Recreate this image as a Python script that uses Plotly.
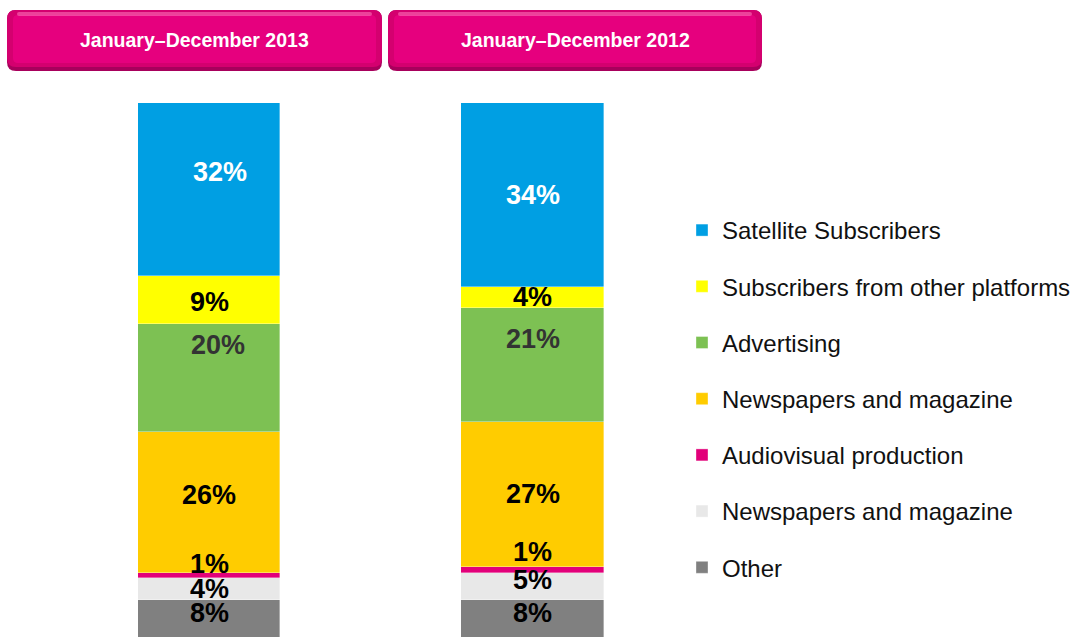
import plotly.graph_objects as go

# ---- data ----
periods = ["January–December 2013", "January–December 2012"]
series_names = ["Other", "Newspapers and magazine", "Audiovisual production",
                "Newspapers and magazine", "Advertising",
                "Subscribers from other platforms", "Satellite Subscribers"]
values_2013 = [8, 4, 1, 26, 20, 9, 32]
values_2012 = [8, 5, 1, 27, 21, 4, 34]

# ---- style ----
colors = ["#808080", "#E8E8E8", "#E2007A", "#FFCC00", "#7DC153", "#FFFF00", "#009FE3"]
label_colors = ["#000000", "#000000", "#000000", "#000000", "#333333", "#000000", "#FFFFFF"]
label_yshift = [[8, 8], [0, 6], [12, 18], [8, 1], [33, 26], [-2, 0], [17, 0]]
label_xshift = [[0, 0], [0, 0], [0, 0], [0, 0], [9, 0], [0, 0], [11, 0]]

W, H = 1078, 637
def px(x):
    return x / W
def py(y):
    return (H - y) / H

fig = go.Figure()
xs = [0, 1]
cols = [values_2013, values_2012]
n = len(series_names)
for i, name in enumerate(series_names):
    fig.add_trace(go.Bar(
        x=xs, y=[c[i] for c in cols], name=name,
        marker=dict(color=colors[i], line=dict(width=0.6, color="rgba(255,255,255,0.6)")),
        width=0.439, legendgroup=f"g{i}", legendrank=n - i, hoverinfo="skip"))

annotations = []
for j, col in enumerate(cols):
    cum = 0
    for i, v in enumerate(col):
        mid = cum + v / 2
        cum += v
        annotations.append(dict(
            x=xs[j], y=mid, xref="x", yref="y", text=f"{v}%", showarrow=False,
            height=22, valign="middle",
            font=dict(family="Liberation Sans, Arial, sans-serif", size=27,
                      color=label_colors[i], weight="bold"),
            yshift=label_yshift[i][j], xshift=label_xshift[i][j]))

# header buttons
shapes = []
def rrect(x0, y0, x1, y1, r):
    return (f"M {px(x0+r)},{py(y0)} L {px(x1-r)},{py(y0)} "
            f"Q {px(x1)},{py(y0)} {px(x1)},{py(y0+r)} L {px(x1)},{py(y1-r)} "
            f"Q {px(x1)},{py(y1)} {px(x1-r)},{py(y1)} L {px(x0+r)},{py(y1)} "
            f"Q {px(x0)},{py(y1)} {px(x0)},{py(y1-r)} L {px(x0)},{py(y0+r)} "
            f"Q {px(x0)},{py(y0)} {px(x0+r)},{py(y0)} Z")

boxes = [(7, 10, 382, 71), (388, 10, 762, 71)]
for k, (x0, y0, x1, y1) in enumerate(boxes):
    shapes.append(dict(type="path", xref="paper", yref="paper", path=rrect(x0, y0, x1, y1, 9),
                       fillcolor="#A8005C", line=dict(width=0), layer="above"))
    shapes.append(dict(type="path", xref="paper", yref="paper", path=rrect(x0, y0, x1, y1 - 4, 9),
                       fillcolor="#D4006F", line=dict(width=0), layer="above"))
    shapes.append(dict(type="path", xref="paper", yref="paper",
                       path=rrect(x0 + 6, y0 + 5, x1 - 6, y1 - 8, 5),
                       fillcolor="#E6007E", line=dict(width=0), layer="above"))
    shapes.append(dict(type="path", xref="paper", yref="paper",
                       path=rrect(x0 + 10, y0 + 2, x1 - 10, y0 + 6, 2),
                       fillcolor="rgba(255,120,190,0.55)", line=dict(width=0), layer="above"))
    annotations.append(dict(
        x=px((x0 + x1) / 2), y=py((y0 + y1) / 2 - 1), xref="paper", yref="paper",
        text=periods[k], showarrow=False, xanchor="center", yanchor="middle",
        font=dict(family="Liberation Sans, Arial, sans-serif",
                  size=19.5, color="white", weight="bold")))

ypx_top, ypx_bot, ypx_zero = 103, 637, 643
ymin = 100 * (ypx_zero - ypx_bot) / (ypx_zero - ypx_top)
unit = 323.5
fig.update_layout(
    width=W, height=H, margin=dict(l=0, r=0, t=0, b=0),
    paper_bgcolor="white", plot_bgcolor="white",
    barmode="stack", bargap=0,
    xaxis=dict(domain=[0, 1], range=[-209 / unit, (W - 209) / unit], visible=False, fixedrange=True),
    yaxis=dict(domain=[0, (H - ypx_top) / H], range=[ymin, 100], visible=False, fixedrange=True),
    showlegend=True,
    legend=dict(x=px(682), y=py(208), xanchor="left", yanchor="top",
                traceorder="grouped", tracegroupgap=22,
                font=dict(family="Liberation Sans, Arial, sans-serif", size=24, color="#111111"),
                bgcolor="rgba(0,0,0,0)"),
    shapes=shapes, annotations=annotations,
)

fig.write_html("out.html", config={"displayModeBar": False},
               post_script="document.body.style.margin='0'; document.body.style.overflow='hidden';")
